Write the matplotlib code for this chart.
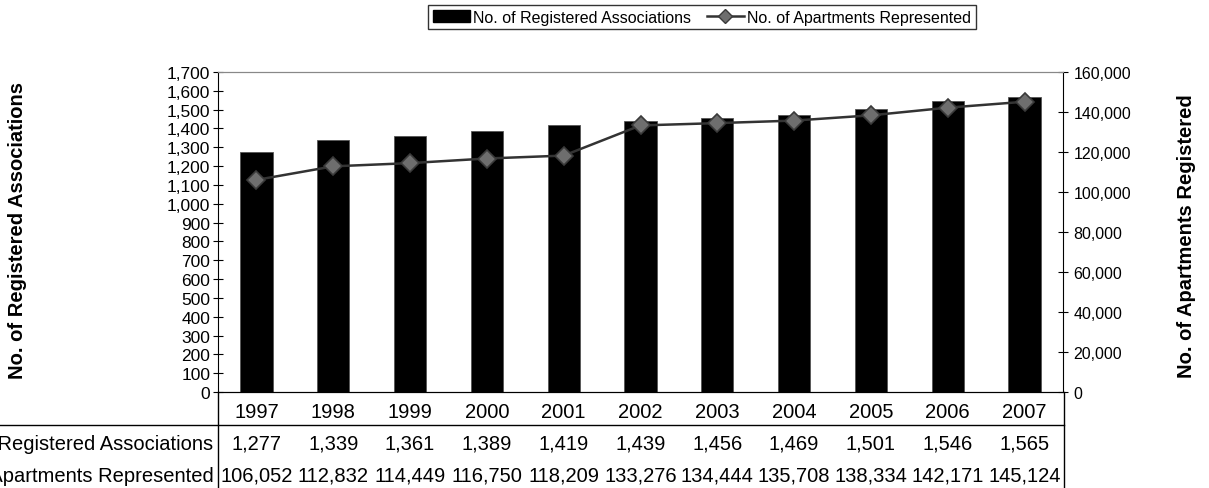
import numpy as np
import matplotlib.pyplot as plt
from matplotlib.lines import Line2D
from matplotlib.patches import Patch

plt.rcParams['font.family'] = ['Liberation Sans', 'DejaVu Sans']

#-----data
years = ['1997', '1998', '1999', '2000', '2001', '2002', '2003', '2004', '2005', '2006', '2007']
associations = [1277, 1339, 1361, 1389, 1419, 1439, 1456, 1469, 1501, 1546, 1565]
apartments = [106052, 112832, 114449, 116750, 118209, 133276, 134444, 135708, 138334, 142171, 145124]

#-----figure
fig = plt.figure(figsize=(12.09, 4.89), dpi=100)
ax = fig.add_axes([218/1209, 1-393/489, 845/1209, 320/489])
x = np.arange(len(years))

ax.bar(x, associations, width=0.42, color='black', edgecolor='#555555', linewidth=0.6, zorder=2)
ax.set_xlim(-0.5, len(years)-0.5)
ax.set_ylim(0, 1700)
ax.set_yticks(np.arange(0, 1701, 100))
ax.set_yticklabels(['{:,}'.format(v) for v in range(0, 1701, 100)])
ax.set_xticks(x)
ax.set_xticklabels(years, fontsize=14.5)
ax.tick_params(axis='x', length=0, pad=7)
ax.tick_params(axis='y', direction='inout', length=7, labelsize=12.5, pad=2)
ax.spines['top'].set_color('#888888')
ax.spines['right'].set_visible(False)

ax2 = ax.twinx()
ax2.plot(x, apartments, color='#333333', lw=1.8, marker='D', markersize=9,
         markerfacecolor='#6e6e6e', markeredgecolor='#3a3a3a', markeredgewidth=1.2, zorder=3)
ax2.set_ylim(0, 160000)
ax2.set_yticks(np.arange(0, 160001, 20000))
ax2.set_yticklabels(['{:,}'.format(v) for v in range(0, 160001, 20000)])
ax2.tick_params(axis='y', direction='inout', length=7, labelsize=11.5, pad=4)
ax2.spines['top'].set_color('#888888')
ax2.spines['left'].set_visible(False)

fig.text(18/1209, 1-231/489, 'No. of Registered Associations', rotation=90,
         ha='center', va='center', fontsize=14.5, fontweight='bold')
fig.text(1187/1209, 1-236/489, 'No. of Apartments Registered', rotation=90,
         ha='center', va='center', fontsize=14.5, fontweight='bold')

#-----data table
tr = ax.get_xaxis_transform()
for i in range(len(years)):
    ax.text(x[i], -0.16, '{:,}'.format(associations[i]), transform=tr, ha='center', va='center', fontsize=14.5)
    ax.text(x[i], -0.26, '{:,}'.format(apartments[i]), transform=tr, ha='center', va='center', fontsize=14.5)
ax.text(-0.56, -0.16, 'No. of Registered Associations', transform=tr, ha='right', va='center', fontsize=14.5)
ax.text(-0.56, -0.26, 'No. of Apartments Represented', transform=tr, ha='right', va='center', fontsize=14.5)

# table grid lines
fig.add_artist(Line2D([0, 1064/1209], [1-426/489]*2, color='black', lw=1))
fig.add_artist(Line2D([218/1209]*2, [0, 1-393/489], color='black', lw=1))
fig.add_artist(Line2D([1064/1209]*2, [0, 1-393/489], color='black', lw=1))

#-----legend
handles = [Patch(facecolor='black', edgecolor='black'),
           Line2D([], [], color='#333333', lw=1.8, marker='D', markersize=7,
                  markerfacecolor='#6e6e6e', markeredgecolor='#3a3a3a')]
fig.legend(handles, ['No. of Registered Associations', 'No. of Apartments Represented'],
           loc='center', bbox_to_anchor=(702/1209, 1-18/489), ncol=2, frameon=True,
           fancybox=False, edgecolor='black', fontsize=11.5, handlelength=2.3,
           handletextpad=0.2, columnspacing=1.0, borderpad=0.3)

plt.savefig('out.png', dpi=100)
